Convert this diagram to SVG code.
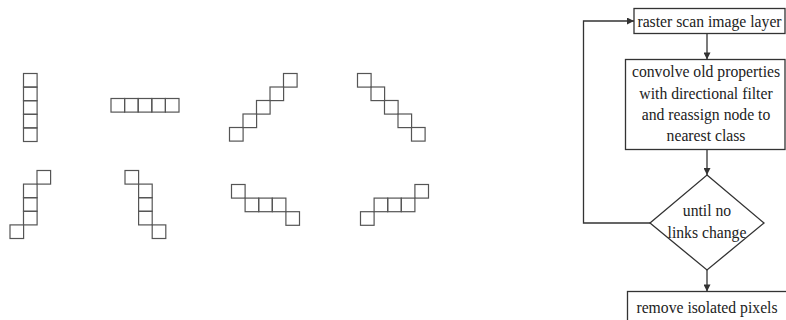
<svg xmlns="http://www.w3.org/2000/svg" xmlns:xlink="http://www.w3.org/1999/xlink" width="786" height="320" viewBox="0 0 786 320">
<style>
.px{fill:none;stroke:#555;stroke-width:1.2}
.box{fill:#fff;stroke:#333;stroke-width:1.3}
.ln{fill:none;stroke:#333;stroke-width:1.3}
.t{font-family:"Liberation Serif","Times New Roman",serif;font-size:15.7px;fill:#222;text-anchor:middle}
</style>
<defs>
<rect id="c" x="0" y="0" width="13.6" height="13.6" class="px"/>
<marker id="ah" viewBox="0 0 10 10" refX="10" refY="5" markerWidth="9" markerHeight="7" markerUnits="userSpaceOnUse" orient="auto">
<path d="M0,0 L10,5 L0,10 Z" fill="#333"/>
</marker>
</defs>
<g id="shape-vertical">
<use href="#c" x="23.5" y="73.5"/><use href="#c" x="23.5" y="87.1"/><use href="#c" x="23.5" y="100.7"/><use href="#c" x="23.5" y="114.3"/><use href="#c" x="23.5" y="127.9"/>
</g>
<g id="shape-horizontal">
<use href="#c" x="111" y="98.5"/><use href="#c" x="124.6" y="98.5"/><use href="#c" x="138.2" y="98.5"/><use href="#c" x="151.8" y="98.5"/><use href="#c" x="165.4" y="98.5"/>
</g>
<g id="shape-diag-up">
<use href="#c" x="229.5" y="127.5"/><use href="#c" x="243" y="114"/><use href="#c" x="256.5" y="100.5"/><use href="#c" x="270" y="87"/><use href="#c" x="283.5" y="73.5"/>
</g>
<g id="shape-diag-down">
<use href="#c" x="357.5" y="73.5"/><use href="#c" x="371" y="87"/><use href="#c" x="384.5" y="100.5"/><use href="#c" x="398" y="114"/><use href="#c" x="411.5" y="127.5"/>
</g>
<g id="shape-steep-right">
<use href="#c" x="37" y="170.5"/><use href="#c" x="23.5" y="184.1"/><use href="#c" x="23.5" y="197.7"/><use href="#c" x="23.5" y="211.3"/><use href="#c" x="10" y="224.9"/>
</g>
<g id="shape-steep-left">
<use href="#c" x="125" y="170.5"/><use href="#c" x="138.6" y="184.1"/><use href="#c" x="138.6" y="197.7"/><use href="#c" x="138.6" y="211.3"/><use href="#c" x="152.2" y="224.9"/>
</g>
<g id="shape-shallow-down">
<use href="#c" x="231.5" y="184.5"/><use href="#c" x="245.1" y="198.1"/><use href="#c" x="258.7" y="198.1"/><use href="#c" x="272.3" y="198.1"/><use href="#c" x="285.9" y="211.7"/>
</g>
<g id="shape-shallow-up">
<use href="#c" x="360.5" y="211.7"/><use href="#c" x="374.1" y="198.1"/><use href="#c" x="387.7" y="198.1"/><use href="#c" x="401.3" y="198.1"/><use href="#c" x="414.9" y="184.5"/>
</g>
<g id="connectors">
<line class="ln" x1="707" y1="33.5" x2="707" y2="59.5" marker-end="url(#ah)"/>
<line class="ln" x1="707" y1="149.5" x2="707" y2="175" marker-end="url(#ah)"/>
<line class="ln" x1="707" y1="270" x2="707" y2="291.5" marker-end="url(#ah)"/>
<polyline class="ln" points="650,223 583.5,223 583.5,21 634,21" marker-end="url(#ah)"/>
</g>
<g id="node-raster">
<rect class="box" x="634" y="8.5" width="151" height="25"/>
<text class="t" x="709.5" y="26.5">raster scan image layer</text>
</g>
<g id="node-convolve">
<rect class="box" x="625.5" y="59.5" width="159.5" height="90"/>
<text class="t" x="706" y="77">convolve old properties</text>
<text class="t" x="706" y="98.5">with directional filter</text>
<text class="t" x="706" y="119.5">and reassign node to</text>
<text class="t" x="706" y="140.5">nearest class</text>
</g>
<g id="node-until">
<polygon class="box" points="707,175 764,223 707,270 650,223"/>
<text class="t" x="707" y="215.5">until no</text>
<text class="t" x="707" y="237.5">links change</text>
</g>
<g id="node-remove">
<rect class="box" x="627.5" y="291.5" width="160" height="35"/>
<text class="t" x="707" y="312.5">remove isolated pixels</text>
</g>
</svg>
